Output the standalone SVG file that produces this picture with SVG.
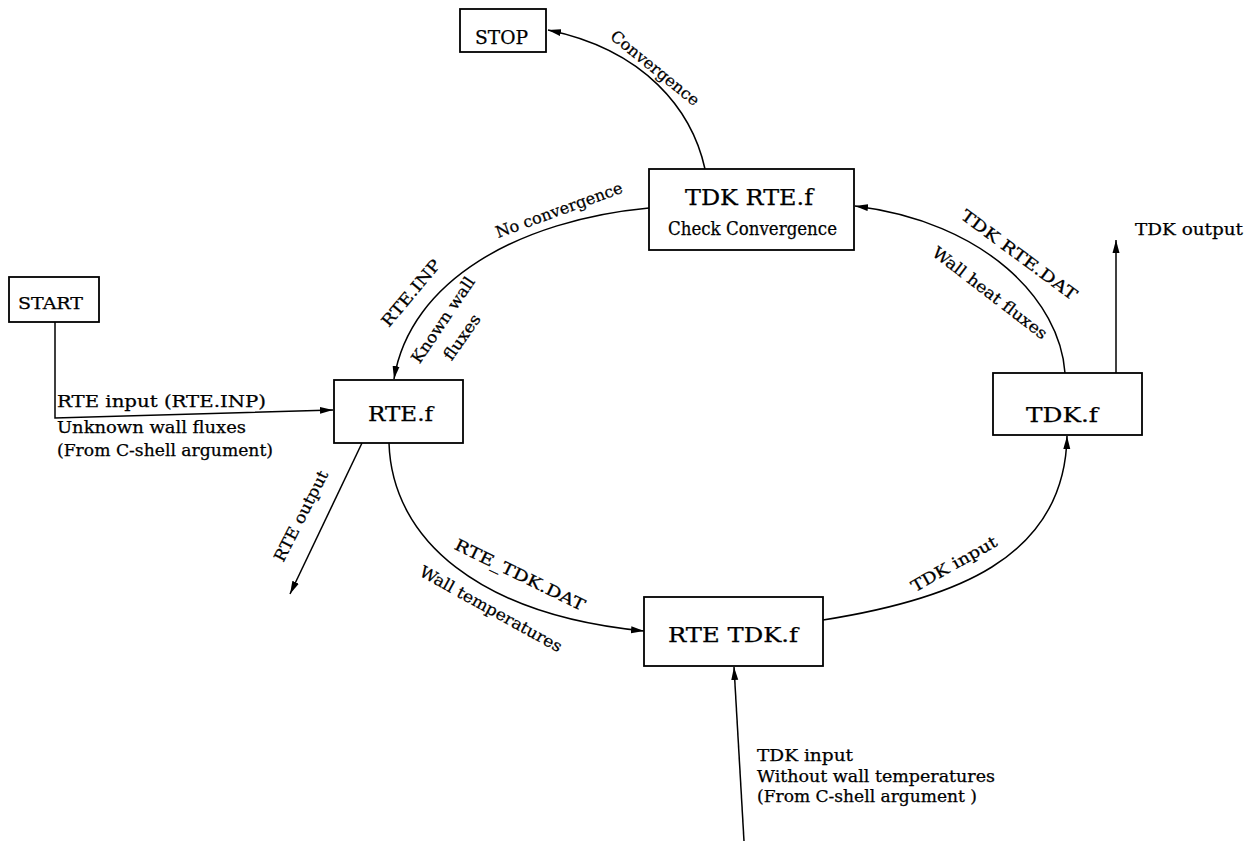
<svg xmlns="http://www.w3.org/2000/svg" width="1258" height="841" viewBox="0 0 1258 841">
<style>
.box{fill:#fff;stroke:#000;stroke-width:1.8}
.c{fill:none;stroke:#000;stroke-width:1.5;marker-end:url(#ah)}
text{font-family:"DejaVu Serif","Liberation Serif",serif;fill:#000;stroke:#000;stroke-width:0.25}
.lbl{font-size:16px}
.rl{font-size:16px;text-anchor:middle;dominant-baseline:central}
</style>
<defs>
<marker id="ah" markerUnits="userSpaceOnUse" markerWidth="14" markerHeight="8" refX="13" refY="4" orient="auto">
<path d="M0,0.5 L13,4 L0,7.5 z" fill="#000"/>
</marker>
</defs>
<rect width="1258" height="841" fill="#fff"/>
<g id="connectors">
<path class="c" d="M705,169 C692,110 645,50 548,30"/>
<path class="c" d="M649,208 C520,220 410,280 394,379"/>
<path class="c" d="M1065,373 C1060,300 985,222 855,206"/>
<path class="c" d="M55,322 L55,418 L333,410"/>
<path class="c" d="M362,443 L290,594"/>
<path class="c" d="M389,443 C392,540 480,615 644,631"/>
<path class="c" d="M823,620 C950,600 1065,560 1067,436"/>
<path class="c" d="M1116,373 L1116,240"/>
<path class="c" d="M744,841 L734,667"/>
</g>
<g id="labels">
<text class="rl" transform="translate(655,68) rotate(39)" textLength="109" lengthAdjust="spacingAndGlyphs">Convergence</text>
<text class="rl" transform="translate(559,210) rotate(-20)" textLength="134" lengthAdjust="spacingAndGlyphs">No convergence</text>
<text class="rl" transform="translate(411,293) rotate(-50)" textLength="82" lengthAdjust="spacingAndGlyphs">RTE.INP</text>
<text class="rl" transform="translate(443,320) rotate(-56)" textLength="100" lengthAdjust="spacingAndGlyphs">Known wall</text>
<text class="rl" transform="translate(462,337) rotate(-55)" textLength="52" lengthAdjust="spacingAndGlyphs">fluxes</text>
<text class="rl" transform="translate(1019,255) rotate(36.5)" textLength="140" lengthAdjust="spacingAndGlyphs">TDK RTE.DAT</text>
<text class="rl" transform="translate(990,293) rotate(37.5)" textLength="140" lengthAdjust="spacingAndGlyphs">Wall heat fluxes</text>
<text class="rl" transform="translate(301,516) rotate(-63)" textLength="100" lengthAdjust="spacingAndGlyphs">RTE output</text>
<text class="rl" transform="translate(520,575) rotate(26)" textLength="143" lengthAdjust="spacingAndGlyphs">RTE_TDK.DAT</text>
<text class="rl" transform="translate(491,609) rotate(29)" textLength="160" lengthAdjust="spacingAndGlyphs">Wall temperatures</text>
<text class="rl" transform="translate(954,564) rotate(-29.5)" textLength="96" lengthAdjust="spacingAndGlyphs">TDK input</text>
<text class="lbl" x="57" y="407" textLength="209" lengthAdjust="spacingAndGlyphs">RTE input (RTE.INP)</text>
<text class="lbl" x="57" y="433" textLength="189" lengthAdjust="spacingAndGlyphs">Unknown wall fluxes</text>
<text class="lbl" x="57" y="456" textLength="216" lengthAdjust="spacingAndGlyphs">(From C-shell argument)</text>
<text class="lbl" x="1135" y="235" textLength="108" lengthAdjust="spacingAndGlyphs">TDK output</text>
<text class="lbl" x="757" y="761" textLength="96" lengthAdjust="spacingAndGlyphs">TDK input</text>
<text class="lbl" x="757" y="782" textLength="238" lengthAdjust="spacingAndGlyphs">Without wall temperatures</text>
<text class="lbl" x="757" y="802" textLength="220" lengthAdjust="spacingAndGlyphs">(From C-shell argument )</text>
</g>
<g id="stop">
<rect class="box" x="460" y="9" width="86" height="43"/>
<text x="475" y="44" font-size="18" textLength="53" lengthAdjust="spacingAndGlyphs">STOP</text>
</g>
<g id="tdk-rte">
<rect class="box" x="649" y="169" width="205" height="81"/>
<text x="685" y="205" font-size="23" textLength="128" lengthAdjust="spacingAndGlyphs">TDK RTE.f</text>
<text x="668" y="235" font-size="18" textLength="169" lengthAdjust="spacingAndGlyphs">Check Convergence</text>
</g>
<g id="start">
<rect class="box" x="9" y="277" width="90" height="45"/>
<text x="18" y="309" font-size="16" textLength="65" lengthAdjust="spacingAndGlyphs">START</text>
</g>
<g id="rte">
<rect class="box" x="334" y="380" width="129" height="63"/>
<text x="368" y="421" font-size="20" textLength="65" lengthAdjust="spacingAndGlyphs">RTE.f</text>
</g>
<g id="tdk">
<rect class="box" x="993" y="373" width="149" height="62"/>
<text x="1026" y="422" font-size="20" textLength="72" lengthAdjust="spacingAndGlyphs">TDK.f</text>
</g>
<g id="rte-tdk">
<rect class="box" x="644" y="597" width="179" height="69"/>
<text x="668" y="642" font-size="20" textLength="130" lengthAdjust="spacingAndGlyphs">RTE TDK.f</text>
</g>
</svg>
